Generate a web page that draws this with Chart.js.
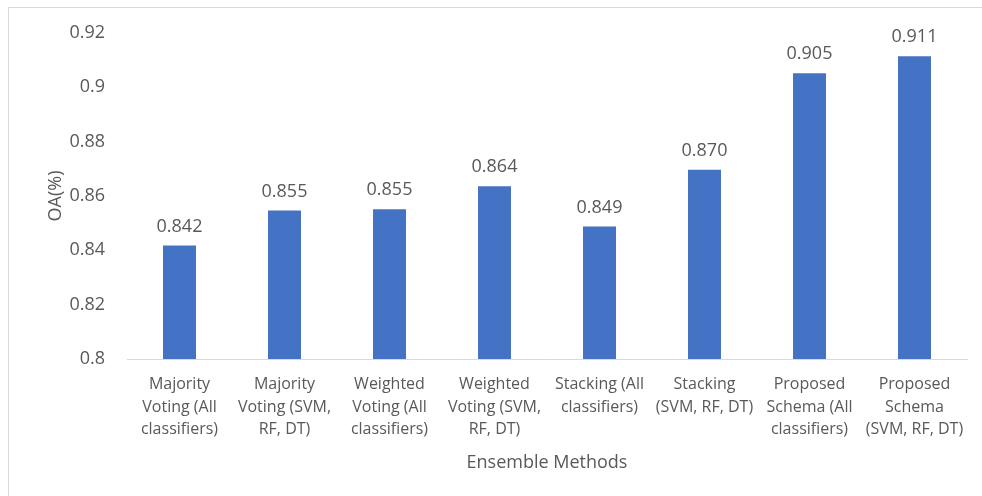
<!DOCTYPE html>
<html>
<head>
<meta charset="utf-8">
<script src="https://cdn.jsdelivr.net/npm/chart.js@4/dist/chart.umd.min.js"></script>
<style>
  html, body { margin: 0; padding: 0; background: #fff; overflow: hidden; }
  #frame { position: absolute; left: 8px; top: 7px; width: 1200px; height: 800px; border: 1px solid #d9d9d9; }
  #wrap { position: absolute; left: 0; top: 0; width: 982px; height: 496px; }
</style>
</head>
<body>
<div id="frame"></div>
<div id="wrap"><canvas id="grafico"></canvas></div>
<script>
const categorias = [
  ['Majority', 'Voting (All', 'classifiers)'],
  ['Majority', 'Voting (SVM,', 'RF, DT)'],
  ['Weighted', 'Voting (All', 'classifiers)'],
  ['Weighted', 'Voting (SVM,', 'RF, DT)'],
  ['Stacking (All', 'classifiers)'],
  ['Stacking', '(SVM, RF, DT)'],
  ['Proposed', 'Schema (All', 'classifiers)'],
  ['Proposed', 'Schema', '(SVM, RF, DT)']
];
const valoresOA = [0.8418, 0.8547, 0.8551, 0.8636, 0.8488, 0.8697, 0.9052, 0.9114];
const rotulosOA = ['0.842', '0.855', '0.855', '0.864', '0.849', '0.870', '0.905', '0.911'];

const corTexto = '#595959';
const fonte = "'Open Sans', sans-serif";

// rotulos de valor em cima de cada barra
const rotulosPlugin = {
  id: 'rotulos',
  afterDatasetsDraw(chart) {
    const ctx = chart.ctx;
    const meta = chart.getDatasetMeta(0);
    ctx.save();
    ctx.font = '18px ' + fonte;
    ctx.fillStyle = corTexto;
    ctx.textAlign = 'center';
    ctx.textBaseline = 'bottom';
    meta.data.forEach((bar, i) => {
      ctx.fillText(rotulosOA[i], bar.x, bar.y - 10);
    });
    ctx.restore();
  }
};

new Chart(document.getElementById('grafico'), {
  type: 'bar',
  data: {
    labels: categorias,
    datasets: [{
      data: valoresOA,
      backgroundColor: '#4472c4',
      barPercentage: 0.314,
      categoryPercentage: 1
    }]
  },
  options: {
    responsive: true,
    maintainAspectRatio: false,
    animation: false,
    layout: { padding: { left: 8, right: 15, top: 33, bottom: 0 } },
    plugins: { legend: { display: false }, tooltip: { enabled: false } },
    scales: {
      x: {
        grid: { display: false },
        border: { display: true, color: '#d9d9d9', width: 1 },
        ticks: {
          color: corTexto,
          font: { family: fonte, size: 16, lineHeight: 1.42 },
          maxRotation: 0,
          autoSkip: false,
          padding: 6
        },
        title: {
          display: true,
          text: 'Ensemble Methods',
          color: corTexto,
          font: { family: fonte, size: 18 },
          padding: { top: 0, bottom: 22 }
        },
        afterFit(scale) { scale.height = 137; }
      },
      y: {
        min: 0.8,
        max: 0.92,
        grid: { display: false },
        border: { display: false },
        ticks: {
          stepSize: 0.02,
          color: corTexto,
          font: { family: fonte, size: 18 },
          padding: 14,
          callback: v => String(Number(v.toFixed(2)))
        },
        title: {
          display: true,
          text: 'OA(%)',
          color: corTexto,
          font: { family: fonte, size: 18 },
          padding: { top: 37, bottom: 0 }
        },
        afterFit(scale) { scale.width = 119; }
      }
    }
  },
  plugins: [rotulosPlugin]
});
</script>
</body>
</html>
